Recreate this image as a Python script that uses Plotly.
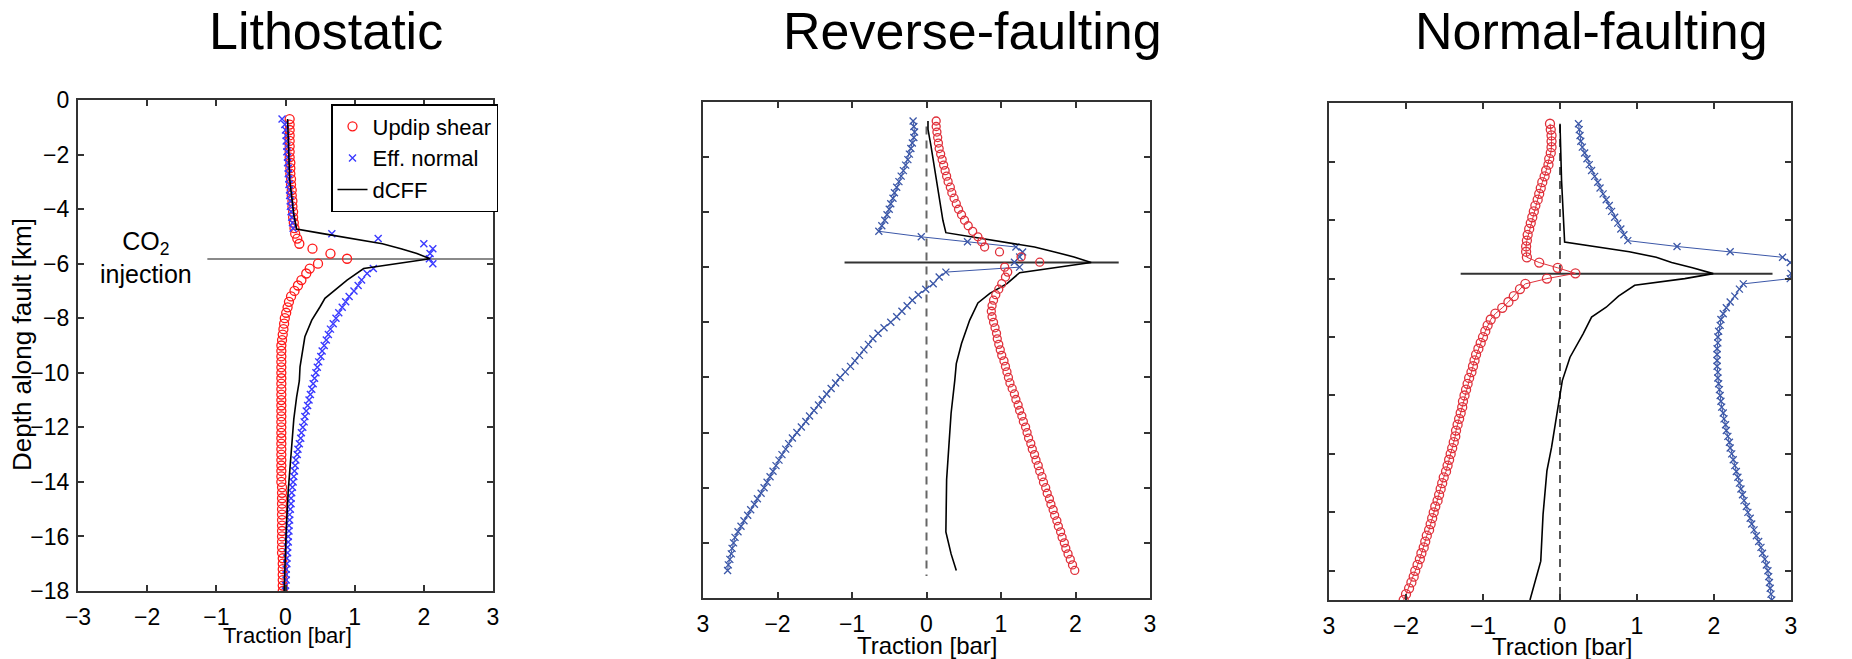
import plotly.graph_objects as go

# ---------------- data ----------------
depth_lith = [-0.7, -0.9, -1.1, -1.3, -1.5, -1.7, -1.9, -2.1, -2.3, -2.5, -2.7, -2.9, -3.1, -3.3, -3.5, -3.7, -3.9, -4.1, -4.3, -4.5, -4.7,
              -4.9, -5.08, -5.27, -5.45, -5.63, -5.82, -6.0, -6.18, -6.36,
              -6.6, -6.8, -7.0, -7.2, -7.4, -7.6, -7.8, -8.0, -8.2, -8.4, -8.6, -8.8, -9.0, -9.2, -9.4, -9.6, -9.8, -10.0,
              -10.2, -10.4, -10.6, -10.8, -11.0, -11.2, -11.4, -11.6, -11.8, -12.0, -12.2, -12.4, -12.6, -12.8, -13.0,
              -13.2, -13.4, -13.6, -13.8, -14.0, -14.2, -14.4, -14.6, -14.8, -15.0, -15.2, -15.4, -15.6, -15.8, -16.0,
              -16.2, -16.4, -16.6, -16.8, -17.0, -17.2, -17.4, -17.6, -17.8, -18.0]

depth_fault = [-0.7, -0.9, -1.1, -1.3, -1.5, -1.7, -1.9, -2.1, -2.3, -2.5, -2.7, -2.9, -3.1, -3.3, -3.5, -3.7, -3.9, -4.1, -4.3, -4.5, -4.7,
               -4.9, -5.08, -5.27, -5.45, -5.63, -5.82, -6.0, -6.18, -6.36,
               -6.6, -6.8, -7.0, -7.2, -7.4, -7.6, -7.8, -8.0, -8.2, -8.4, -8.6, -8.8, -9.0, -9.2, -9.4, -9.6, -9.8, -10.0,
               -10.2, -10.4, -10.6, -10.8, -11.0, -11.2, -11.4, -11.6, -11.8, -12.0, -12.2, -12.4, -12.6, -12.8, -13.0,
               -13.2, -13.4, -13.6, -13.8, -14.0, -14.2, -14.4, -14.6, -14.8, -15.0, -15.2, -15.4, -15.6, -15.8, -16.0,
               -16.2, -16.4, -16.6, -16.8, -17.0]

# Lithostatic
shear_lith = [0.06, 0.06, 0.06, 0.06, 0.06, 0.06, 0.06, 0.06, 0.07, 0.07, 0.07, 0.08, 0.08, 0.09, 0.09, 0.10, 0.10, 0.11, 0.11, 0.12, 0.13,
              0.14, 0.17, 0.20, 0.39, 0.65, 0.89, 0.47, 0.35, 0.30,
              0.23, 0.18, 0.13, 0.08, 0.05, 0.03, 0.01, -0.01, -0.02, -0.03, -0.04, -0.05,
              -0.06, -0.06, -0.06, -0.06, -0.06, -0.06, -0.06, -0.06, -0.06, -0.06, -0.06, -0.06, -0.06,
              -0.06, -0.06, -0.06, -0.06, -0.06, -0.06, -0.06, -0.06, -0.06, -0.06, -0.06, -0.06, -0.06,
              -0.05, -0.05, -0.05, -0.05, -0.05, -0.05, -0.05, -0.05, -0.05, -0.05, -0.05, -0.05, -0.05,
              -0.04, -0.04, -0.04, -0.04, -0.04, -0.04, -0.04]
normal_lith = [-0.05, -0.01, 0.00, 0.01, 0.01, 0.02, 0.02, 0.03, 0.03, 0.04, 0.04, 0.05, 0.05, 0.06, 0.06, 0.07, 0.07, 0.08, 0.09, 0.10, 0.11,
               0.67, 1.34, 2.00, 2.13, 2.09, 2.08, 2.13, 1.27, 1.18,
               1.10, 1.05, 0.99, 0.92, 0.87, 0.82, 0.77, 0.73, 0.69, 0.65, 0.62, 0.59, 0.56, 0.53, 0.51, 0.48, 0.46, 0.44,
               0.42, 0.40, 0.38, 0.36, 0.34, 0.32, 0.30, 0.28, 0.27, 0.25, 0.23, 0.22, 0.20, 0.18, 0.17, 0.15, 0.14, 0.13,
               0.12, 0.11, 0.10, 0.09, 0.08, 0.08, 0.07, 0.06, 0.06, 0.05, 0.05, 0.04, 0.04, 0.03, 0.03, 0.02, 0.02, 0.01,
               0.01, 0.01, 0.00, 0.00]
dcff_lith_depth = [-0.7, -2.9, -4.2, -4.73, -4.9, -5.08, -5.27, -5.45, -5.63, -5.82, -6.18, -6.6, -7.27, -7.58, -8.07,
                   -8.68, -9.78, -10.3, -10.9, -11.7, -12.7, -14.3, -15.8, -18.0]
dcff_lith = [0.03, 0.06, 0.12, 0.16, 0.54, 0.97, 1.40, 1.67, 1.90, 2.09, 1.13, 0.89, 0.57, 0.50, 0.38,
             0.28, 0.21, 0.20, 0.16, 0.12, 0.09, 0.04, 0.01, -0.02]

# Reverse-faulting
shear_rev = [0.13, 0.13, 0.14, 0.15, 0.16, 0.17, 0.19, 0.21, 0.23, 0.25, 0.27, 0.29, 0.32, 0.34, 0.37, 0.40, 0.43, 0.47, 0.51, 0.56, 0.62,
             0.69, 0.74, 0.78, 0.98, 1.27, 1.52, 1.05, 1.09, 1.06,
             1.01, 0.97, 0.93, 0.90, 0.88, 0.87, 0.88, 0.90, 0.92, 0.94, 0.95, 0.97, 0.99, 1.01, 1.04, 1.06, 1.08, 1.10,
             1.12, 1.15, 1.18, 1.20, 1.23, 1.25, 1.28, 1.30, 1.33, 1.35, 1.37, 1.40, 1.42, 1.45, 1.47, 1.50, 1.52, 1.55,
             1.57, 1.60, 1.62, 1.65, 1.67, 1.70, 1.72, 1.75, 1.77, 1.80, 1.82, 1.85, 1.87, 1.90, 1.93, 1.96, 1.99]
normal_rev = [-0.18, -0.17, -0.16, -0.17, -0.19, -0.21, -0.23, -0.25, -0.28, -0.31, -0.34, -0.37, -0.40, -0.43, -0.45, -0.48, -0.50, -0.53, -0.56, -0.60, -0.64,
              -0.07, 0.55, 1.20, 1.29, 1.25, 1.18, 1.25, 0.26, 0.17,
              0.09, -0.01, -0.11, -0.19, -0.26, -0.33, -0.40, -0.48, -0.57, -0.65, -0.72, -0.78, -0.84, -0.90, -0.96, -1.02,
              -1.09, -1.16, -1.22, -1.28, -1.34, -1.40, -1.45, -1.51, -1.57, -1.62, -1.68, -1.74, -1.80, -1.85, -1.89, -1.94,
              -1.98, -2.02, -2.06, -2.10, -2.14, -2.18, -2.22, -2.27, -2.31, -2.36, -2.40, -2.45, -2.49, -2.53, -2.57, -2.59,
              -2.61, -2.62, -2.64, -2.66, -2.67]
dcff_rev_depth = [-0.7, -1.0, -1.6, -3.2, -4.3, -4.75, -4.9, -5.08, -5.27, -5.45, -5.63, -5.83, -6.0, -6.2, -6.6, -6.95,
                  -7.3, -7.92, -8.77, -9.5, -10.1, -11.3, -12.5, -13.7, -15.6, -16.4, -17.0]
dcff_rev = [0.02, 0.02, 0.06, 0.15, 0.22, 0.26, 0.62, 1.05, 1.45, 1.72, 1.98, 2.21, 1.80, 1.25, 1.08, 0.85,
            0.69, 0.58, 0.47, 0.40, 0.38, 0.33, 0.30, 0.27, 0.26, 0.33, 0.40]

# Normal-faulting
shear_norm = [-0.13, -0.12, -0.11, -0.11, -0.11, -0.12, -0.14, -0.15, -0.18, -0.20, -0.23, -0.25, -0.27, -0.29, -0.32, -0.34, -0.36, -0.38, -0.40, -0.42, -0.43,
              -0.44, -0.44, -0.43, -0.27, -0.03, 0.20, -0.17, -0.45, -0.52,
              -0.60, -0.67, -0.75, -0.84, -0.90, -0.94, -0.97, -1.00, -1.03, -1.06, -1.09, -1.11, -1.13, -1.15, -1.18, -1.20,
              -1.22, -1.24, -1.26, -1.27, -1.29, -1.31, -1.33, -1.35, -1.36, -1.38, -1.40, -1.42, -1.44, -1.46, -1.48, -1.51,
              -1.53, -1.55, -1.57, -1.59, -1.62, -1.64, -1.66, -1.68, -1.70, -1.73, -1.75, -1.77, -1.80, -1.82, -1.85, -1.88,
              -1.90, -1.93, -1.96, -2.00, -2.03]
normal_norm = [0.24, 0.25, 0.26, 0.27, 0.29, 0.32, 0.35, 0.38, 0.41, 0.45, 0.49, 0.52, 0.56, 0.60, 0.64, 0.67, 0.71, 0.75, 0.79, 0.83, 0.88,
               1.52, 2.21, 2.89, 2.99, 3.05, 3.00, 2.99, 2.38, 2.33,
               2.27, 2.21, 2.16, 2.12, 2.09, 2.08, 2.06, 2.05, 2.05, 2.04, 2.04, 2.04, 2.04, 2.05, 2.05, 2.06, 2.07, 2.08,
               2.09, 2.10, 2.12, 2.13, 2.15, 2.16, 2.18, 2.20, 2.21, 2.23, 2.25, 2.27, 2.29, 2.31, 2.33, 2.35, 2.37, 2.39,
               2.42, 2.44, 2.47, 2.49, 2.52, 2.55, 2.58, 2.61, 2.63, 2.66, 2.68, 2.70, 2.71, 2.72, 2.73, 2.74, 2.75]
dcff_norm_depth = [-0.7, -2.63, -4.75, -4.9, -5.08, -5.27, -5.45, -5.63, -5.83, -6.0, -6.23, -6.6, -6.98, -7.32, -7.89,
                   -8.69, -9.49, -10.63, -11.78, -12.58, -14.07, -15.67, -16.35, -17.0]
dcff_norm = [0.0, 0.02, 0.06, 0.47, 0.90, 1.25, 1.45, 1.72, 1.99, 1.62, 0.97, 0.76, 0.60, 0.41, 0.30,
             0.13, 0.03, -0.04, -0.11, -0.17, -0.22, -0.25, -0.32, -0.39]

# injection level and reference lines
inj_depth = [-5.83, -5.83]
inj_x_lith = [-1.13, 3.0]
inj_x_rev = [-1.1, 2.58]
inj_x_norm = [-1.29, 2.76]
zero_x = [0, 0]
zero_depth_rev = [-0.9, -17.2]
zero_depth_norm = [-0.74, -17.0]

x_ticks = [-3, -2, -1, 0, 1, 2, 3]
x_ticktext_full = ["\u22123", "\u22122", "\u22121", "0", "1", "2", "3"]
x_ticktext_cut = ["3", "\u22122", "\u22121", "0", "1", "2", "3"]

titles = ["Lithostatic", "Reverse-faulting", "Normal-faulting"]
y_title = "Depth along fault [km]"
x_title = "Traction [bar]"
names = ["Updip shear", "Eff. normal", "dCFF"]

# ---------------- figure ----------------
FONT = "Liberation Sans, Arial, Helvetica, sans-serif"
W, H = 1852, 659
RED1, BLUE1 = "#ff1a1a", "#3a3aff"
RED2, BLUE2 = "#e0313b", "#3b57a8"

fig = go.Figure()

# Panel 1
fig.add_trace(go.Scatter(x=inj_x_lith, y=inj_depth, mode="lines", line=dict(color="#8a8a8a", width=2),
                         showlegend=False, hoverinfo="skip", xaxis="x", yaxis="y"))
fig.add_trace(go.Scatter(x=shear_lith, y=depth_lith, mode="markers", name=names[0],
                         marker=dict(symbol="circle-open", size=9, color=RED1, line=dict(width=1.3, color=RED1)),
                         xaxis="x", yaxis="y"))
fig.add_trace(go.Scatter(x=normal_lith, y=depth_lith, mode="markers", name=names[1],
                         marker=dict(symbol="x-thin-open", size=7, color=BLUE1, line=dict(width=1.4, color=BLUE1)),
                         xaxis="x", yaxis="y"))
fig.add_trace(go.Scatter(x=dcff_lith, y=dcff_lith_depth, mode="lines", name=names[2],
                         line=dict(color="black", width=1.6), xaxis="x", yaxis="y"))

# Panel 2
fig.add_trace(go.Scatter(x=zero_x, y=zero_depth_rev, mode="lines", line=dict(color="#666666", width=2, dash="8px,6px"),
                         showlegend=False, hoverinfo="skip", xaxis="x2", yaxis="y2"))
fig.add_trace(go.Scatter(x=inj_x_rev, y=inj_depth, mode="lines", line=dict(color="#333333", width=2),
                         showlegend=False, hoverinfo="skip", xaxis="x2", yaxis="y2"))
fig.add_trace(go.Scatter(x=normal_rev, y=depth_fault, mode="lines+markers", showlegend=False,
                         line=dict(color=BLUE2, width=1),
                         marker=dict(symbol="x-thin-open", size=7, color=BLUE2, line=dict(width=1.3, color=BLUE2)),
                         xaxis="x2", yaxis="y2"))
fig.add_trace(go.Scatter(x=dcff_rev, y=dcff_rev_depth, mode="lines", showlegend=False,
                         line=dict(color="black", width=1.6), xaxis="x2", yaxis="y2"))
fig.add_trace(go.Scatter(x=shear_rev, y=depth_fault, mode="markers", showlegend=False,
                         marker=dict(symbol="circle-open", size=8, color=RED2, line=dict(width=1.3, color=RED2)),
                         xaxis="x2", yaxis="y2"))

# Panel 3
fig.add_trace(go.Scatter(x=zero_x, y=zero_depth_norm, mode="lines", line=dict(color="#555555", width=2, dash="8px,6px"),
                         showlegend=False, hoverinfo="skip", xaxis="x3", yaxis="y3"))
fig.add_trace(go.Scatter(x=inj_x_norm, y=inj_depth, mode="lines", line=dict(color="#333333", width=2),
                         showlegend=False, hoverinfo="skip", xaxis="x3", yaxis="y3"))
fig.add_trace(go.Scatter(x=normal_norm, y=depth_fault, mode="lines+markers", showlegend=False,
                         line=dict(color=BLUE2, width=1),
                         marker=dict(symbol="x-thin-open", size=7, color=BLUE2, line=dict(width=1.3, color=BLUE2)),
                         xaxis="x3", yaxis="y3"))
fig.add_trace(go.Scatter(x=dcff_norm, y=dcff_norm_depth, mode="lines", showlegend=False,
                         line=dict(color="black", width=1.6), xaxis="x3", yaxis="y3"))
fig.add_trace(go.Scatter(x=shear_norm, y=depth_fault, mode="lines+markers", showlegend=False,
                         line=dict(color=RED2, width=1),
                         marker=dict(symbol="circle-open", size=9, color=RED2, line=dict(width=1.3, color=RED2)),
                         xaxis="x3", yaxis="y3"))


def xaxis(domain, anchor, ticktext):
    return dict(domain=domain, anchor=anchor, range=[-3, 3], tickvals=x_ticks, ticktext=ticktext,
                ticks="inside", ticklen=6, tickwidth=1.5, tickcolor="#333333",
                showline=True, linecolor="#333333", linewidth=2.2, mirror="allticks",
                showgrid=False, zeroline=False, automargin=False,
                tickfont=dict(family=FONT, size=23, color="black"), ticklabelstandoff=4)


def yaxis(domain, anchor, rng, labels):
    return dict(domain=domain, anchor=anchor, range=rng, tick0=0, dtick=2,
                ticks="inside", ticklen=6, tickwidth=1.5, tickcolor="#333333",
                showline=True, linecolor="#333333", linewidth=2.2, mirror="allticks",
                showgrid=False, zeroline=False, showticklabels=labels, automargin=False,
                tickfont=dict(family=FONT, size=23, color="black"), ticklabelstandoff=2)


fig.update_layout(
    template="none",
    width=W, height=H, autosize=False,
    margin=dict(l=0, r=0, t=0, b=0, pad=0, autoexpand=False),
    paper_bgcolor="white", plot_bgcolor="white",
    font=dict(family=FONT, color="black"),
    xaxis=xaxis([78 / W, 493 / W], "y", x_ticktext_full),
    yaxis=yaxis([68 / H, 559 / H], "x", [-18, 0], True),
    xaxis2=xaxis([703 / W, 1150 / W], "y2", x_ticktext_cut),
    yaxis2=yaxis([61 / H, 557.3 / H], "x2", [-18, 0], False),
    xaxis3=xaxis([1329 / W, 1791 / W], "y3", x_ticktext_cut),
    yaxis3=yaxis([59 / H, 555.7 / H], "x3", [-17, 0], False),
    legend=dict(x=331 / W, y=1 - 104 / H, xanchor="left", yanchor="top",
                bordercolor="black", borderwidth=1.5, bgcolor="white",
                font=dict(family=FONT, size=22, color="black"), tracegroupgap=0, itemwidth=30),
    showlegend=True,
)

ann = []
for t, xc in zip(titles, [326, 972, 1591]):
    ann.append(dict(text=t, x=xc / W, y=1 - 31 / H, xref="paper", yref="paper", showarrow=False,
                    xanchor="center", yanchor="middle", font=dict(family=FONT, size=52, color="black")))
ann.append(dict(text=y_title, x=22 / W, y=1 - 345 / H, xref="paper", yref="paper", showarrow=False,
                textangle=-90, xanchor="center", yanchor="middle", font=dict(family=FONT, size=26, color="black")))
for xc, yc, fs in [(287, 635, 22), (928, 645, 24), (1562, 646, 24)]:
    ann.append(dict(text=x_title, x=xc / W, y=1 - yc / H, xref="paper", yref="paper", showarrow=False,
                    xanchor="center", yanchor="middle", font=dict(family=FONT, size=fs, color="black")))
ann.append(dict(text="CO<sub>2</sub><br>injection", x=146 / W, y=1 - 257 / H, xref="paper", yref="paper",
                showarrow=False, xanchor="center", yanchor="middle", align="center",
                font=dict(family=FONT, size=25, color="black")))
fig.update_layout(annotations=ann)

fig.write_html("out.html")
